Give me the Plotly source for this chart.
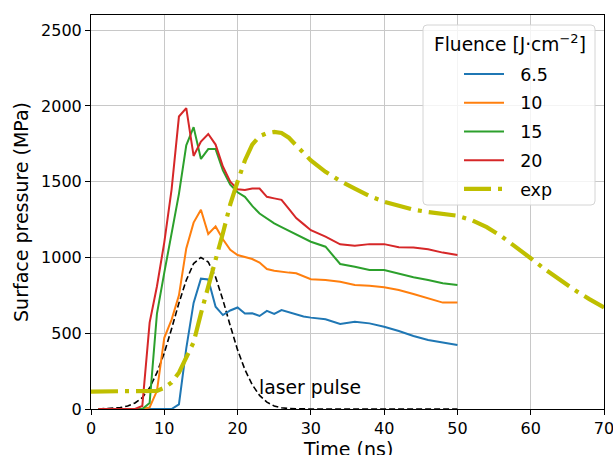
import plotly.graph_objects as go

# Simulation time grid (ns)
t_sim = [1, 2, 3, 4, 5, 6, 7, 8, 9, 10, 11, 12, 13, 14, 15, 16, 17, 18, 19, 20,
         21, 22, 23, 24, 25, 26, 27, 28, 29, 30, 32, 34, 36, 38, 40, 42, 44, 46, 48, 50]

# Simulated surface pressure (MPa) for each fluence
p_6_5 = [0, 0, 0, 0, 0, 0, 0, 0, 0, 0, 0, 30, 400, 700, 860, 855, 675, 620, 650, 670,
         630, 632, 614, 647, 627, 653, 637, 622, 610, 603, 592, 561, 576, 565, 543, 515, 482, 455, 438, 422]
p_10 = [0, 0, 0, 0, 0, 0, 0, 10, 120, 470, 590, 750, 1060, 1230, 1315, 1155, 1205, 1120, 1050, 1016,
        1005, 990, 966, 924, 913, 905, 900, 896, 878, 856, 851, 840, 818, 814, 803, 785, 759, 731, 702, 702]
p_15 = [0, 0, 0, 0, 0, 0, 0, 40, 630, 900, 1150, 1420, 1740, 1860, 1650, 1715, 1715, 1575, 1480, 1430,
        1400, 1340, 1290, 1255, 1225, 1200, 1175, 1150, 1125, 1104, 1071, 957, 939, 917, 917, 891, 869, 851, 830, 818]
p_20 = [0, 0, 0, 0, 0, 0, 20, 570, 810, 1100, 1450, 1930, 1985, 1670, 1765, 1815, 1745, 1600, 1500, 1450,
        1445, 1455, 1455, 1400, 1390, 1380, 1320, 1260, 1220, 1180, 1137, 1087, 1078, 1088, 1088, 1067, 1065, 1054, 1032, 1016]

# Laser pulse profile (scaled to MPa axis)
laser = [0, 2, 4, 9, 20, 40, 75, 140, 240, 370, 530, 700, 850, 960, 1000, 970, 870, 720, 550, 390,
         260, 160, 90, 45, 20, 8, 3, 1, 0, 0, 0, 0, 0, 0, 0, 0, 0, 0, 0, 0]

# Experimental surface pressure
t_exp = [0, 2, 4, 6, 8, 9, 10, 11, 12, 13, 14, 15, 16, 17, 18, 19, 20, 21, 22, 23, 24, 25, 26, 27,
         28, 29, 30, 32, 34, 36, 38, 40, 42, 44, 46, 48, 50, 52, 54, 56, 58, 60, 62, 64, 66, 68, 70]
p_exp = [115, 115, 115, 115, 115, 120, 140, 175, 240, 340, 440, 630, 820, 985, 1160, 1350, 1500, 1640,
         1745, 1800, 1820, 1828, 1822, 1790, 1740, 1690, 1640, 1565, 1505, 1455, 1405, 1368, 1338, 1315,
         1300, 1290, 1275, 1245, 1200, 1140, 1070, 995, 920, 850, 785, 725, 670]

labels = ["6.5", "10", "15", "20"]
colors = ["#1f77b4", "#ff7f0e", "#2ca02c", "#d62728"]
series = [p_6_5, p_10, p_15, p_20]

# Figure geometry (pixels)
W, H = 613, 455
ML, MR, MT, MB = 91, 9, 15, 46
PW, PH = W - ML - MR, H - MT - MB


def px(xp):
    return (xp - ML) / PW


def py(yp):
    return (H - MB - yp) / PH


fig = go.Figure()

fig.add_trace(go.Scatter(x=t_sim, y=laser, mode="lines", showlegend=False,
                         line=dict(color="black", width=1.6, dash="6px,3px")))

pad = "\u00a0\u00a0"
for name, col, vals in zip(labels, colors, series):
    fig.add_trace(go.Scatter(x=t_sim, y=vals, mode="lines", name=pad + name, legendgroup=name,
                             line=dict(color=col, width=2)))

fig.add_trace(go.Scatter(x=t_exp, y=p_exp, mode="lines", name=pad + "exp", legendgroup="exp",
                         line=dict(color="#bfbf00", width=4.2, dash="27px,7px,4px,7px")))

axis_common = dict(showgrid=True, gridcolor="#c8c8c8", gridwidth=1, zeroline=False,
                   showline=True, mirror=True, linecolor="black", linewidth=1,
                   ticks="outside", ticklen=5, tickcolor="black", tickwidth=1,
                   ticklabeloverflow="allow", automargin=False,
                   tickfont=dict(size=16, color="black", family="DejaVu Sans"))

fig.update_xaxes(range=[0, 70], tickvals=[0, 10, 20, 30, 40, 50, 60, 70], **axis_common)
fig.update_yaxes(range=[0, 2600], tickvals=[0, 500, 1000, 1500, 2000, 2500], **axis_common)

# Rounded legend frame
x0, x1, y0, y1, r = 423, 595, 25, 205, 4
rx, ry = r / PW, r / PH
frame = (f"M {px(x0) + rx},{py(y0)} L {px(x1) - rx},{py(y0)} Q {px(x1)},{py(y0)} {px(x1)},{py(y0) - ry} "
         f"L {px(x1)},{py(y1) + ry} Q {px(x1)},{py(y1)} {px(x1) - rx},{py(y1)} "
         f"L {px(x0) + rx},{py(y1)} Q {px(x0)},{py(y1)} {px(x0)},{py(y1) + ry} "
         f"L {px(x0)},{py(y0) - ry} Q {px(x0)},{py(y0)} {px(x0) + rx},{py(y0)} Z")

fig.update_layout(
    width=W, height=H,
    margin=dict(l=ML, r=MR, t=MT, b=MB, autoexpand=False),
    plot_bgcolor="white", paper_bgcolor="white",
    font=dict(family="DejaVu Sans", color="black"),
    shapes=[dict(type="path", path=frame, xref="paper", yref="paper", layer="above",
                 fillcolor="rgba(255,255,255,0.8)", line=dict(color="#d4d4d4", width=1))],
    legend=dict(x=px(459), y=py(56), xanchor="left", yanchor="top",
                bgcolor="rgba(0,0,0,0)", borderwidth=0,
                font=dict(size=17.5, family="DejaVu Sans"),
                itemwidth=40, tracegroupgap=3),
    annotations=[
        dict(text="Fluence [J·cm<sup>−2</sup>]", x=px(432), y=py(43), xref="paper", yref="paper",
             xanchor="left", yanchor="middle", showarrow=False,
             font=dict(size=18.6, family="DejaVu Sans", color="black")),
        dict(text="laser pulse", x=22.7, y=139, xref="x", yref="y", xanchor="left", yanchor="middle",
             showarrow=False, font=dict(size=18.8, family="DejaVu Sans", color="black")),
        dict(text="Time (ns)", x=0.5, y=-0.0685, xref="paper", yref="paper", xanchor="center",
             yanchor="top", showarrow=False, font=dict(size=19, family="DejaVu Sans", color="black")),
        dict(text="Surface pressure (MPa)", x=-0.1365, y=0.5, xref="paper", yref="paper",
             xanchor="center", yanchor="middle", textangle=-90, showarrow=False,
             font=dict(size=19, family="DejaVu Sans", color="black")),
    ],
)

fig.write_html("out.html")
